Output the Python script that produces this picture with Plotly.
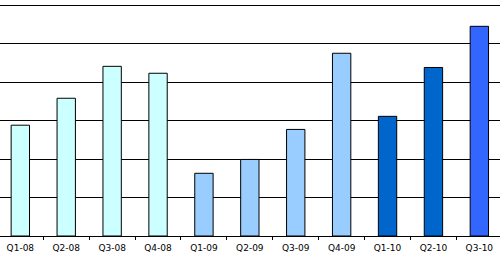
import plotly.graph_objects as go

categories = ["Q1-08", "Q2-08", "Q3-08", "Q4-08", "Q1-09", "Q2-09", "Q3-09", "Q4-09", "Q1-10", "Q2-10", "Q3-10"]
values = [2.88, 3.58, 4.41, 4.23, 1.63, 1.99, 2.77, 4.75, 3.11, 4.38, 5.45]
colors = ["#CCFFFF"] * 4 + ["#99CCFF"] * 4 + ["#0066CC", "#0066CC", "#3366FF"]

fig = go.Figure(go.Bar(
    x=categories, y=values,
    marker=dict(color=colors, line=dict(color="black", width=1)),
    width=0.4,
))
fig.update_layout(
    width=500, height=255,
    margin=dict(l=0, r=0, t=4, b=19),
    plot_bgcolor="white", paper_bgcolor="white",
    showlegend=False,
    font=dict(family="DejaVu Sans", size=9, color="black"),
)
fig.update_xaxes(
    type="category", range=[-0.443, 10.45],
    showline=True, linecolor="black", linewidth=1,
    ticks="outside", tickson="boundaries", ticklen=3, tickcolor="black", tickwidth=1,
    ticklabelstandoff=3,
    showgrid=False,
)
fig.update_yaxes(
    range=[0, 6.03], dtick=1, showgrid=True, gridcolor="black", gridwidth=1,
    showticklabels=False, zeroline=False, showline=False,
)
fig.write_html("out.html")
